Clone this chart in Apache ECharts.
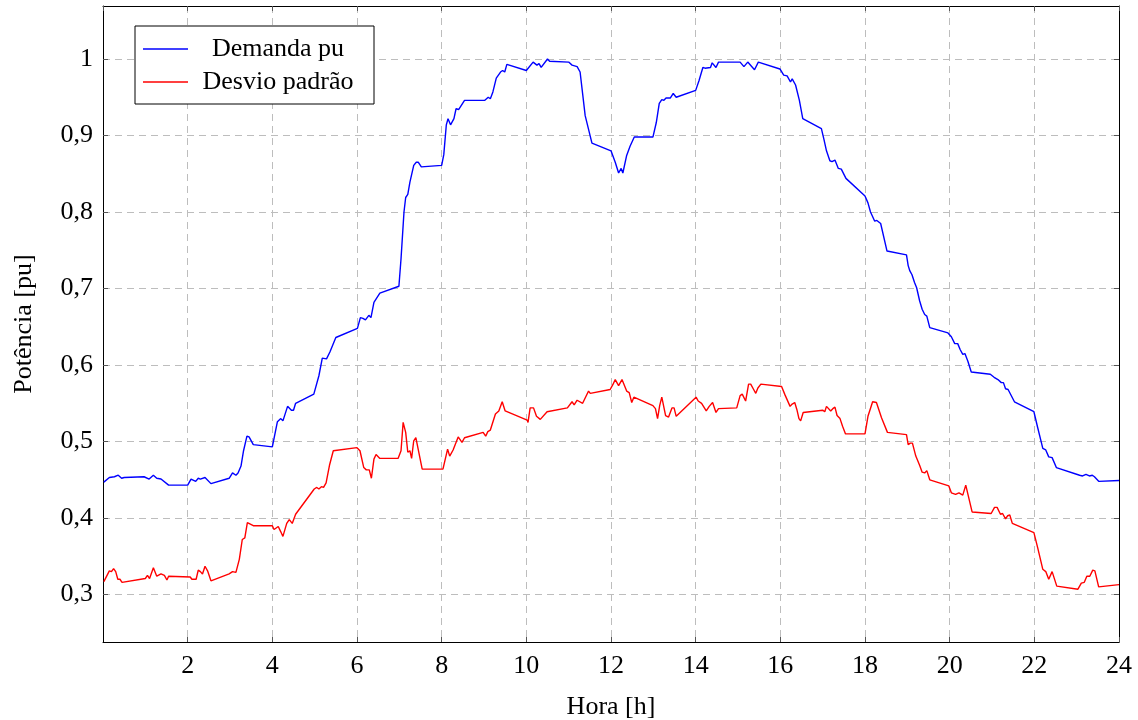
<!DOCTYPE html>
<html>
<head>
<meta charset="utf-8">
<script src="https://cdn.jsdelivr.net/npm/echarts@6/dist/echarts.min.js"></script>
<style>
html,body{margin:0;padding:0;background:#fff;}
#chart{width:1138px;height:720px;}
</style>
</head>
<body>
<div id="chart"></div>
<script>
// ---- data ----
const seriesNames = ['Demanda pu', 'Desvio padrão'];
const xTicks = [2, 4, 6, 8, 10, 12, 14, 16, 18, 20, 22, 24];
const yTicks = [0.3, 0.4, 0.5, 0.6, 0.7, 0.8, 0.9, 1.0];

const horaDemanda = [0.02,0.15,0.27,0.36,0.44,0.50,0.97,1.09,1.19,1.27,1.37,1.55,2.00,2.08,2.19,2.25,2.30,2.41,2.55,2.98,3.06,3.14,3.19,3.26,3.32,3.40,3.45,3.55,4.00,4.12,4.20,4.25,4.36,4.38,4.45,4.50,4.55,4.98,5.10,5.18,5.28,5.36,5.40,5.50,6.01,6.08,6.14,6.20,6.28,6.33,6.40,6.54,6.99,7.04,7.11,7.15,7.20,7.25,7.29,7.34,7.40,7.45,7.52,8.00,8.05,8.11,8.15,8.21,8.29,8.34,8.40,8.54,9.02,9.10,9.15,9.21,9.29,9.39,9.44,9.49,9.54,10.00,10.16,10.25,10.30,10.35,10.50,10.55,11.00,11.08,11.20,11.27,11.39,11.55,12.00,12.10,12.18,12.24,12.28,12.37,12.45,12.55,12.99,13.07,13.14,13.20,13.25,13.30,13.40,13.47,13.54,14.00,14.08,14.17,14.22,14.35,14.39,14.48,14.54,15.05,15.14,15.23,15.39,15.48,15.99,16.08,16.16,16.24,16.28,16.36,16.45,16.53,16.97,17.03,17.09,17.17,17.22,17.29,17.37,17.44,17.55,18.00,18.07,18.13,18.23,18.28,18.37,18.52,18.98,19.02,19.06,19.11,19.17,19.22,19.29,19.35,19.41,19.46,19.53,19.96,20.04,20.12,20.19,20.25,20.31,20.36,20.43,20.51,20.96,21.05,21.14,21.22,21.27,21.32,21.38,21.42,21.53,21.99,22.08,22.20,22.27,22.34,22.42,22.52,23.07,23.14,23.22,23.30,23.37,23.42,23.52,24.00];
const demanda = [0.447,0.453,0.454,0.456,0.452,0.453,0.454,0.451,0.456,0.452,0.451,0.443,0.443,0.451,0.448,0.452,0.451,0.453,0.445,0.452,0.459,0.456,0.459,0.468,0.488,0.507,0.506,0.496,0.493,0.526,0.530,0.527,0.546,0.547,0.541,0.541,0.550,0.562,0.586,0.609,0.608,0.617,0.618,0.636,0.648,0.662,0.661,0.659,0.665,0.662,0.682,0.694,0.703,0.739,0.800,0.819,0.823,0.839,0.840,0.861,0.865,0.865,0.859,0.861,0.875,0.914,0.922,0.914,0.922,0.935,0.934,0.946,0.946,0.950,0.948,0.957,0.975,0.983,0.985,0.983,0.993,0.985,0.996,0.992,0.994,0.989,1.000,0.997,0.996,0.992,0.990,0.983,0.926,0.890,0.880,0.865,0.851,0.857,0.851,0.874,0.886,0.898,0.898,0.917,0.942,0.947,0.946,0.949,0.949,0.955,0.950,0.959,0.972,0.989,0.988,0.989,0.995,0.989,0.996,0.996,0.990,0.996,0.986,0.996,0.987,0.979,0.978,0.970,0.974,0.966,0.946,0.922,0.909,0.895,0.880,0.867,0.866,0.868,0.857,0.856,0.844,0.821,0.812,0.800,0.788,0.789,0.785,0.749,0.744,0.730,0.723,0.718,0.708,0.701,0.684,0.673,0.666,0.664,0.649,0.642,0.637,0.628,0.628,0.620,0.614,0.615,0.605,0.591,0.588,0.584,0.581,0.577,0.577,0.569,0.568,0.569,0.552,0.539,0.518,0.491,0.489,0.480,0.479,0.466,0.456,0.455,0.457,0.455,0.456,0.454,0.448,0.449];

const horaDesvio = [0.02,0.15,0.20,0.25,0.30,0.35,0.40,0.45,1.00,1.05,1.10,1.19,1.27,1.37,1.45,1.51,1.55,2.06,2.10,2.20,2.25,2.30,2.35,2.41,2.47,2.55,2.98,3.06,3.14,3.22,3.29,3.35,3.41,3.45,3.55,4.00,4.04,4.09,4.14,4.20,4.25,4.29,4.34,4.40,4.47,4.55,4.99,5.05,5.10,5.16,5.21,5.27,5.35,5.38,5.44,6.00,6.07,6.16,6.22,6.29,6.34,6.40,6.45,6.54,6.97,7.04,7.09,7.15,7.20,7.25,7.29,7.34,7.39,7.54,8.03,8.14,8.19,8.27,8.39,8.48,8.54,8.98,9.04,9.09,9.15,9.27,9.35,9.43,9.50,10.02,10.04,10.09,10.17,10.24,10.33,10.49,10.97,11.08,11.13,11.20,11.33,11.47,11.51,11.98,12.04,12.10,12.18,12.26,12.37,12.43,12.49,12.54,12.99,13.05,13.10,13.15,13.20,13.29,13.36,13.44,13.49,13.54,14.01,14.06,14.14,14.25,14.32,14.40,14.48,14.54,14.97,15.05,15.10,15.18,15.25,15.30,15.36,15.42,15.47,15.54,16.03,16.11,16.23,16.28,16.34,16.39,16.44,16.48,16.54,17.00,17.05,17.09,17.12,17.19,17.24,17.29,17.34,17.41,17.47,17.54,18.00,18.07,18.18,18.22,18.27,18.39,18.53,18.98,19.02,19.07,19.12,19.20,19.24,19.29,19.35,19.41,19.46,19.53,19.98,20.04,20.14,20.22,20.31,20.38,20.53,20.98,21.06,21.12,21.20,21.25,21.32,21.37,21.42,21.48,21.99,22.08,22.20,22.27,22.34,22.42,22.53,23.03,23.11,23.18,23.24,23.31,23.38,23.43,23.52,24.00];
const desvio = [0.317,0.331,0.330,0.334,0.330,0.320,0.320,0.316,0.321,0.325,0.321,0.335,0.324,0.327,0.325,0.319,0.324,0.323,0.320,0.320,0.332,0.330,0.327,0.337,0.331,0.318,0.327,0.330,0.329,0.346,0.372,0.374,0.394,0.396,0.390,0.390,0.385,0.387,0.389,0.382,0.376,0.377,0.393,0.398,0.393,0.405,0.438,0.440,0.438,0.441,0.440,0.446,0.469,0.470,0.488,0.492,0.488,0.466,0.463,0.463,0.452,0.477,0.483,0.478,0.478,0.488,0.525,0.512,0.486,0.488,0.478,0.501,0.505,0.464,0.464,0.490,0.481,0.489,0.506,0.499,0.505,0.512,0.507,0.513,0.515,0.536,0.540,0.552,0.540,0.528,0.525,0.544,0.544,0.533,0.529,0.539,0.544,0.552,0.548,0.554,0.550,0.566,0.563,0.568,0.574,0.581,0.573,0.581,0.566,0.564,0.551,0.558,0.547,0.543,0.530,0.547,0.558,0.534,0.532,0.544,0.544,0.533,0.558,0.553,0.550,0.540,0.546,0.551,0.538,0.543,0.544,0.560,0.562,0.553,0.575,0.575,0.569,0.563,0.570,0.575,0.572,0.561,0.546,0.549,0.551,0.542,0.530,0.527,0.538,0.541,0.539,0.546,0.548,0.540,0.543,0.545,0.534,0.530,0.520,0.510,0.510,0.533,0.552,0.550,0.551,0.531,0.512,0.509,0.496,0.498,0.498,0.481,0.480,0.469,0.460,0.459,0.462,0.450,0.442,0.433,0.431,0.433,0.430,0.443,0.408,0.406,0.414,0.414,0.405,0.406,0.399,0.403,0.404,0.393,0.381,0.361,0.333,0.330,0.320,0.330,0.311,0.307,0.315,0.316,0.324,0.324,0.332,0.331,0.310,0.313];

// ---- chart ----
const FONT = 'Liberation Serif';
const FS = 26;
const X_MIN = 0, X_MAX = 24, Y_MIN = 0.238, Y_MAX = 1.0693;
const zip = (xs, ys) => xs.map((x, i) => [x, ys[i]]);
const fmtY = v => (Math.abs(v - 1) < 1e-9 ? '1' : v.toFixed(1).replace('.', ','));
const gridLine = { show: true, lineStyle: { color: '#bdbdbd', type: [7, 5], width: 1 } };

const chart = echarts.init(document.getElementById('chart'), null, { renderer: 'canvas' });
chart.setOption({
  animation: false,
  backgroundColor: '#ffffff',
  textStyle: { fontFamily: FONT },
  grid: { left: 103, right: 19, top: 6, bottom: 78, containLabel: false, outerBoundsMode: 'none' },
  legend: {
    orient: 'vertical',
    left: 135, top: 26,
    padding: [10, 11, 9, 8],
    itemGap: 7,
    icon: 'rect',
    itemWidth: 45, itemHeight: 1.5,
    backgroundColor: '#fff',
    borderColor: '#000', borderWidth: 1, borderRadius: 0,
    data: seriesNames,
    formatter: n => '{t|' + n + '}',
    textStyle: {
      fontFamily: FONT, fontSize: FS, color: '#000',
      rich: { t: { fontFamily: FONT, fontSize: FS, color: '#000', width: 170, align: 'center', lineHeight: 26 } }
    }
  },
  xAxis: [{
    type: 'value', min: X_MIN, max: X_MAX, interval: 2,
    name: 'Hora [h]', nameLocation: 'middle', nameGap: 52,
    nameTextStyle: { fontFamily: FONT, fontSize: FS, color: '#000' },
    axisLine: { show: true, onZero: false, lineStyle: { color: '#000', width: 1 } },
    axisTick: { show: true, inside: true, length: 5, lineStyle: { color: '#555' } },
    axisLabel: { fontFamily: FONT, fontSize: FS, color: '#000', margin: 11, showMinLabel: false,
      formatter: v => (xTicks.indexOf(v) >= 0 ? String(v) : '') },
    splitLine: gridLine
  }, {
    type: 'value', min: X_MIN, max: X_MAX, interval: 2, position: 'top',
    axisLine: { show: true, onZero: false, lineStyle: { color: '#000', width: 1 } },
    axisTick: { show: true, inside: true, length: 5, lineStyle: { color: '#555' } },
    axisLabel: { show: false }, splitLine: { show: false }
  }],
  yAxis: [{
    type: 'value', min: Y_MIN, max: Y_MAX,
    name: 'Potência [pu]', nameLocation: 'middle', nameGap: 66, nameRotate: 90,
    nameTextStyle: { fontFamily: FONT, fontSize: FS, color: '#000' },
    axisLine: { show: true, onZero: false, lineStyle: { color: '#000', width: 1 } },
    axisTick: { show: true, inside: true, length: 5, lineStyle: { color: '#555' }, customValues: yTicks },
    axisLabel: { fontFamily: FONT, fontSize: FS, color: '#000', margin: 10, customValues: yTicks, formatter: fmtY },
    splitLine: gridLine
  }, {
    type: 'value', min: Y_MIN, max: Y_MAX, position: 'right',
    axisLine: { show: true, onZero: false, lineStyle: { color: '#000', width: 1 } },
    axisTick: { show: true, inside: true, length: 5, lineStyle: { color: '#555' }, customValues: yTicks },
    axisLabel: { show: false, customValues: yTicks }, splitLine: { show: false }
  }],
  series: [{
    name: seriesNames[0], type: 'line', xAxisIndex: 0, yAxisIndex: 0,
    data: zip(horaDemanda, demanda), symbol: 'none', smooth: false,
    lineStyle: { color: '#0000ff', width: 1.4 }, itemStyle: { color: '#0000ff' }
  }, {
    name: seriesNames[1], type: 'line', xAxisIndex: 0, yAxisIndex: 0,
    data: zip(horaDesvio, desvio), symbol: 'none', smooth: false,
    lineStyle: { color: '#ff0000', width: 1.4 }, itemStyle: { color: '#ff0000' }
  }]
});
</script>
</body>
</html>
